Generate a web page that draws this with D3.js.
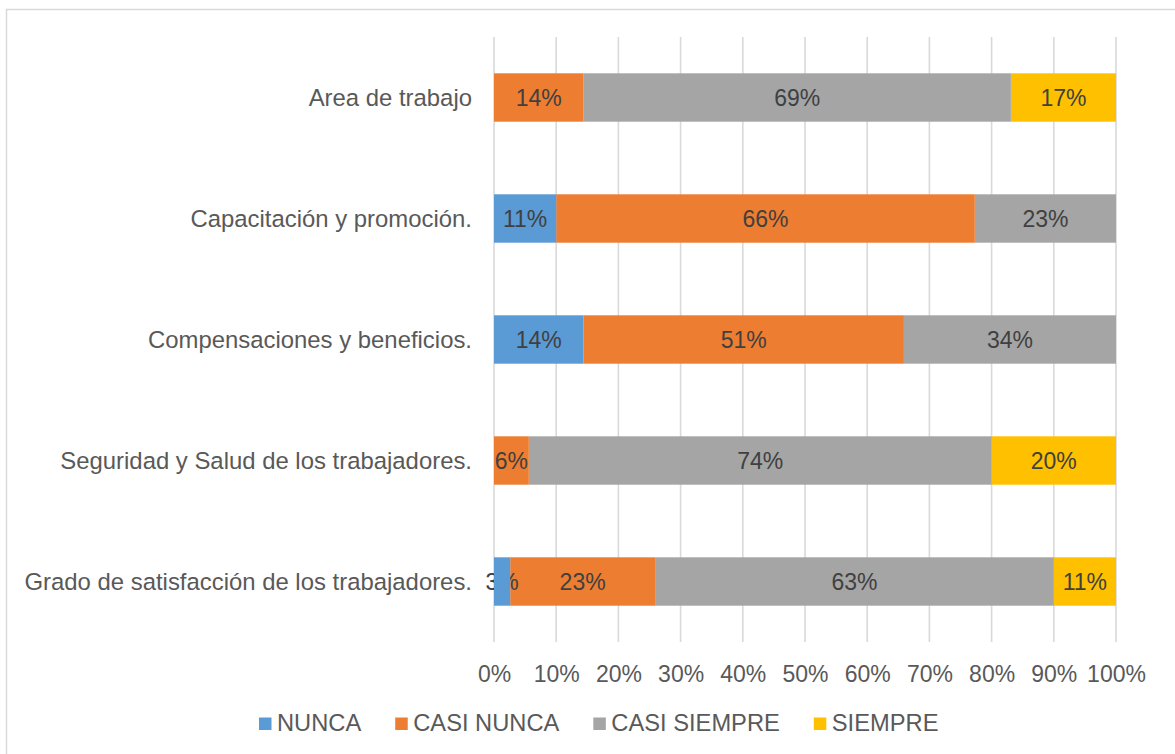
<!DOCTYPE html>
<html>
<head>
<meta charset="utf-8">
<script src="https://cdn.jsdelivr.net/npm/d3@7"></script>
<style>
  html, body { margin: 0; padding: 0; background: #fff; }
  svg { display: block; font-family: "Liberation Sans", Arial, sans-serif; }
</style>
</head>
<body>
<svg id="chart" width="1175" height="754"></svg>
<script>
// ---- data ----
const categories = [
  "Area de trabajo",
  "Capacitación y promoción.",
  "Compensaciones y beneficios.",
  "Seguridad y Salud de los trabajadores.",
  "Grado de satisfacción de los trabajadores."
];
const seriesNames = ["NUNCA", "CASI NUNCA", "CASI SIEMPRE", "SIEMPRE"];
const seriesColors = ["#5B9BD5", "#ED7D31", "#A5A5A5", "#FFC000"];
// bar lengths (percent)
const nunca       = [0,    10.0, 14.4, 0,    2.6];
const casiNunca   = [14.4, 67.3, 51.5, 5.6,  23.3];
const casiSiempre = [68.7, 22.7, 34.1, 74.4, 64.1];
const siempre     = [16.9, 0,    0,    20.0, 10.0];
// data label texts as printed in the picture
const nuncaLabels       = ["",    "11%", "14%", "",    "3%"];
const casiNuncaLabels   = ["14%", "66%", "51%", "6%",  "23%"];
const casiSiempreLabels = ["69%", "23%", "34%", "74%", "63%"];
const siempreLabels     = ["17%", "",    "",    "20%", "11%"];
const tickValues = [0, 10, 20, 30, 40, 50, 60, 70, 80, 90, 100];

const seriesValues = [nunca, casiNunca, casiSiempre, siempre];
const seriesLabels = [nuncaLabels, casiNuncaLabels, casiSiempreLabels, siempreLabels];

// ---- layout ----
const svg = d3.select("#chart");
const FS = 23;
const axisColor = "#595959";
const labelColor = "#404040";
const gridColor = "#D9D9D9";

// outer chart border (cropped on right / bottom)
svg.append("rect")
  .attr("x", 6.5).attr("y", 9.5)
  .attr("width", 1200).attr("height", 800)
  .attr("fill", "none").attr("stroke", gridColor).attr("stroke-width", 1.5);

const x = d3.scaleLinear().domain([0, 100]).range([494, 1116]);
const y = d3.scaleBand().domain(categories).range([37, 642])
  .paddingInner(0.6).paddingOuter(0.3);

// gridlines
svg.append("g").selectAll("line").data(tickValues).join("line")
  .attr("x1", d => x(d)).attr("x2", d => x(d))
  .attr("y1", 37).attr("y2", 642)
  .attr("stroke", gridColor).attr("stroke-width", 1.6);

// x-axis tick labels
const xAxis = d3.axisBottom(x).tickValues(tickValues).tickFormat(d => d + "%").tickSize(0).tickPadding(0);
const gx = svg.append("g").attr("transform", "translate(0,682)").call(xAxis);
gx.select(".domain").remove();
gx.selectAll("text")
  .attr("y", 0).attr("dy", 0)
  .attr("fill", axisColor)
  .style("font-size", FS + "px")
  .style("font-family", '"Liberation Sans", Arial, sans-serif');

// y-axis category labels
const yAxis = d3.axisLeft(y).tickSize(0).tickPadding(0);
const gy = svg.append("g").attr("transform", "translate(472,0)").call(yAxis);
gy.select(".domain").remove();
gy.selectAll("text")
  .attr("x", 0).attr("dy", "0.35em")
  .attr("fill", axisColor)
  .style("font-size", "23.9px")
  .style("font-family", '"Liberation Sans", Arial, sans-serif');

// stacked segments
const stackKeys = d3.range(seriesNames.length);
const rows = categories.map((c, i) => {
  const r = { cat: c };
  stackKeys.forEach(k => { r[k] = seriesValues[k][i]; });
  return r;
});
const stacked = d3.stack().keys(stackKeys)(rows);

// drawing order: last series first, so earlier series' overflowing labels sit over later bars
const measure = svg.append("text").style("font-size", FS + "px").attr("visibility", "hidden");
function textWidth(t) { measure.text(t); return measure.node().getComputedTextLength(); }

const plot = svg.append("g");
for (let k = seriesNames.length - 1; k >= 0; k--) {
  const layer = stacked[k];
  const segs = layer.map((d, i) => ({
    i, x0: d[0], x1: d[1], cat: categories[i], label: seriesLabels[k][i]
  })).filter(s => s.x1 - s.x0 > 0);
  const segW = s => x(s.x1) - x(s.x0);
  const overflow = segs.filter(s => s.label && textWidth(s.label) > segW(s) + 2);
  const fits = segs.filter(s => s.label && textWidth(s.label) <= segW(s) + 2);
  const g = plot.append("g");
  const drawLabels = arr => g.append("g").selectAll("text").data(arr).join("text")
    .attr("x", s => (x(s.x0) + x(s.x1)) / 2)
    .attr("y", s => y(s.cat) + y.bandwidth() / 2)
    .attr("dy", "0.35em")
    .attr("text-anchor", "middle")
    .attr("fill", labelColor)
    .style("font-size", FS + "px")
    .text(s => s.label);
  drawLabels(overflow);
  g.append("g").selectAll("rect").data(segs).join("rect")
    .attr("x", s => x(s.x0))
    .attr("y", s => y(s.cat))
    .attr("width", s => segW(s))
    .attr("height", y.bandwidth())
    .attr("fill", seriesColors[k]);
  drawLabels(fits);
}

// legend
const legend = svg.append("g");
let lx = 259;
seriesNames.forEach((name, k) => {
  legend.append("rect")
    .attr("x", lx).attr("y", 717.5)
    .attr("width", 12.5).attr("height", 12.5)
    .attr("fill", seriesColors[k]);
  const t = legend.append("text")
    .attr("x", lx + 18).attr("y", 731)
    .attr("fill", axisColor)
    .style("font-size", "23.7px")
    .text(name);
  lx = lx + 18 + t.node().getComputedTextLength() + 34;
});
measure.remove();
</script>
</body>
</html>
